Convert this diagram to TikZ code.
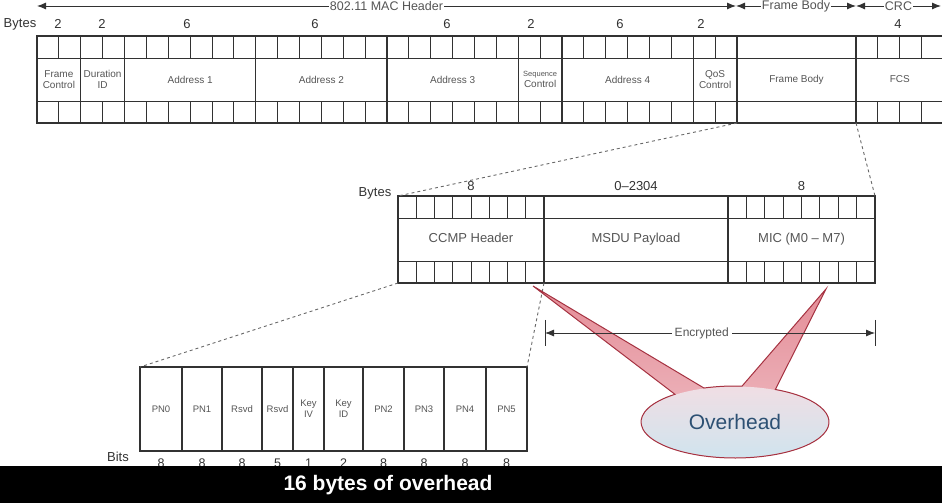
\documentclass[tikz,border=0pt]{standalone}
\usepackage{fontspec}
\setmainfont{Liberation Sans}
\usetikzlibrary{arrows.meta}
\definecolor{linegray}{RGB}{50,50,50}
\definecolor{textgray}{RGB}{85,85,85}
\definecolor{dashgray}{RGB}{105,105,105}
\definecolor{bubbleline}{RGB}{165,50,65}
\definecolor{pointerpink}{RGB}{228,140,150}
\definecolor{pointerlight}{RGB}{240,195,202}
\definecolor{bubbletop}{RGB}{240,222,228}
\definecolor{bubblebottom}{RGB}{208,228,238}
\definecolor{overblue}{RGB}{45,80,115}
\newcommand{\bubbleoutline}{(tipa) -- ([shift={(109.3:94 and 36)}]bub) arc[start angle=109.3, end angle=85.7, x radius=94, y radius=36] -- (tipb) -- ([shift={(64.6:94 and 36)}]bub) arc[start angle=64.6, end angle=-230.3, x radius=94, y radius=36] -- cycle}
\begin{document}
\begin{tikzpicture}[x=1pt, y=1pt,
		field/.style={draw=linegray, line width=1.1pt, inner sep=0pt, outer sep=0pt, anchor=south west, align=center, text=textgray},
		tick/.style={draw=linegray, line width=0.8pt},
		link/.style={draw=dashgray, dashed, dash pattern=on 3pt off 3pt, line width=0.9pt},
		span/.style={draw=linegray, line width=0.9pt, {Latex[length=9pt,width=7pt]}-{Latex[length=9pt,width=7pt]}},
		numtxt/.style={text=linegray, font=\fontsize{13}{14}\selectfont},
		spantxt/.style={fill=white, inner sep=2pt, text=textgray, font=\fontsize{12.5}{14}\selectfont}]
		\useasboundingbox (0,0) rectangle (942,503);
		\clip (0,0) rectangle (942,503);

		\foreach \a/\b/\name/\lab in {0/2/fc/{Frame\\Control}, 2/4/dur/{Duration\\ID}, 4/10/addra/Address 1, 10/16/addrb/Address 2, 16/22/addrc/Address 3, 22/24/seq/{\fontsize{7.5}{8.5}\selectfont Sequence\\Control}, 24/30/addrd/Address 4, 30/32/qos/{QoS\\Control}, 32/37.44/body/Frame Body, 37.44/41.44/fcs/FCS}{
			\node[field, font=\fontsize{10}{11.5}\selectfont, minimum width={(\b-\a)*21.875pt}, minimum height=87pt] (\name) at ({37+\a*21.875},380) {\lab};
		}
		\draw[tick] (37,445) -- (944,445);
		\draw[tick] (37,402) -- (944,402);
		\foreach \k in {1,...,31}{
			\draw[tick] ({37+\k*21.875},467) -- ++(0,-22);
			\draw[tick] ({37+\k*21.875},380) -- ++(0,22);
		}
		\foreach \k in {1,2,3}{
			\draw[tick] ({856+\k*21.875},467) -- ++(0,-22);
			\draw[tick] ({856+\k*21.875},380) -- ++(0,22);
		}

		\node[numtxt] (bytesa) at (20,479) {Bytes};
		\foreach \x/\n [count=\i] in {58/2,102/2,187/6,315/6,447/6,531/2,620/6,701/2,898/4}{
			\node[numtxt] (top\i) at (\x,479) {\n};
		}

		\coordinate (hdra) at (37,497);
		\coordinate (hdrb) at (736,497);
		\coordinate (hdrc) at (856,497);
		\coordinate (hdrd) at (941,497);
		\draw[span] (hdra) -- (hdrb) node[spantxt, pos=0.5, inner sep=1pt] {802.11 MAC Header};
		\draw[span] (hdrb) -- (hdrc) node[spantxt, pos=0.5, inner sep=1pt] {Frame Body};
		\draw[span] (hdrc) -- (hdrd) node[spantxt, pos=0.5, inner sep=1pt] {CRC};

		\foreach \a/\b/\name/\lab/\n in {398/544/ccmp/CCMP Header/8, 544/728/msdu/MSDU Payload/0--2304, 728/875/mic/MIC (M0 -- M7)/8}{
			\node[field, font=\fontsize{13}{14}\selectfont, text height=9.5pt, text depth=3pt, minimum width={(\b-\a)*1pt}, minimum height=87pt] (\name) at (\a,220) {\lab};
			\node[numtxt] (n\name) at ([yshift=10pt]\name.north) {\n};
		}
		\node[numtxt] (bytesb) at (375,310) {Bytes};
		\draw[tick] (398,285) -- (875,285);
		\draw[tick] (398,242) -- (875,242);
		\foreach \k in {1,...,7}{
			\draw[tick] ({398+\k*18.25},307) -- ++(0,-22);
			\draw[tick] ({398+\k*18.25},220) -- ++(0,22);
			\draw[tick] ({728+\k*18.375},307) -- ++(0,-22);
			\draw[tick] ({728+\k*18.375},220) -- ++(0,22);
		}

		\foreach \a/\b/\name/\lab/\n in {140/182/pna/PN0/8, 182/222/pnb/PN1/8, 222/262/rsa/Rsvd/8, 262/293/rsb/Rsvd/5, 293/324/keyiv/{Key\\IV}/1, 324/363/keyid/{Key\\ID}/2, 363/404/pnc/PN2/8, 404/444/pnd/PN3/8, 444/486/pne/PN4/8, 486/527/pnf/PN5/8}{
			\node[field, font=\fontsize{9.5}{11}\selectfont, minimum width={(\b-\a)*1pt}, minimum height=84pt] (\name) at (\a,52) {\lab};
			\node[numtxt, font=\fontsize{12.5}{14}\selectfont] (b\name) at ([yshift=-12pt]\name.south) {\n};
		}
		\node[numtxt] (bits) at (118,46) {Bits};

		\draw[link] (body.south west) -- (ccmp.north west);
		\draw[link] (fcs.south west) -- (mic.north east);
		\draw[link] (ccmp.south west) -- (pna.north west);
		\draw[link] (ccmp.south east) -- (pnf.north east);

		\coordinate (bub) at (735,81);
		\coordinate (tipa) at (533,217);
		\coordinate (tipb) at (826,214);
		\shade[top color=pointerpink, bottom color=pointerlight] \bubbleoutline;
		\shade[top color=bubbletop, bottom color=bubblebottom] (bub) ellipse [x radius=93.5, y radius=35.5];
		\draw[bubbleline, line width=1pt] \bubbleoutline;
		\node[text=overblue, font=\fontsize{21}{24}\selectfont] (ovh) at (bub) {Overhead};

		\coordinate (enca) at (545,170);
		\coordinate (encb) at (875,170);
		\draw[tick] (545,183) -- (545,157);
		\draw[tick] (875,183) -- (875,157);
		\draw[span, line width=0.8pt] (enca) -- (encb) node[spantxt, pos=0.475, inner sep=3pt, font=\fontsize{12}{13}\selectfont] {Encrypted};

		\fill[black] (0,0) rectangle (942,37);
		\node[text=white, font=\bfseries\fontsize{21}{24}\selectfont] (caption) at (388,18) {16 bytes of overhead};
	\end{tikzpicture}
\end{document}
